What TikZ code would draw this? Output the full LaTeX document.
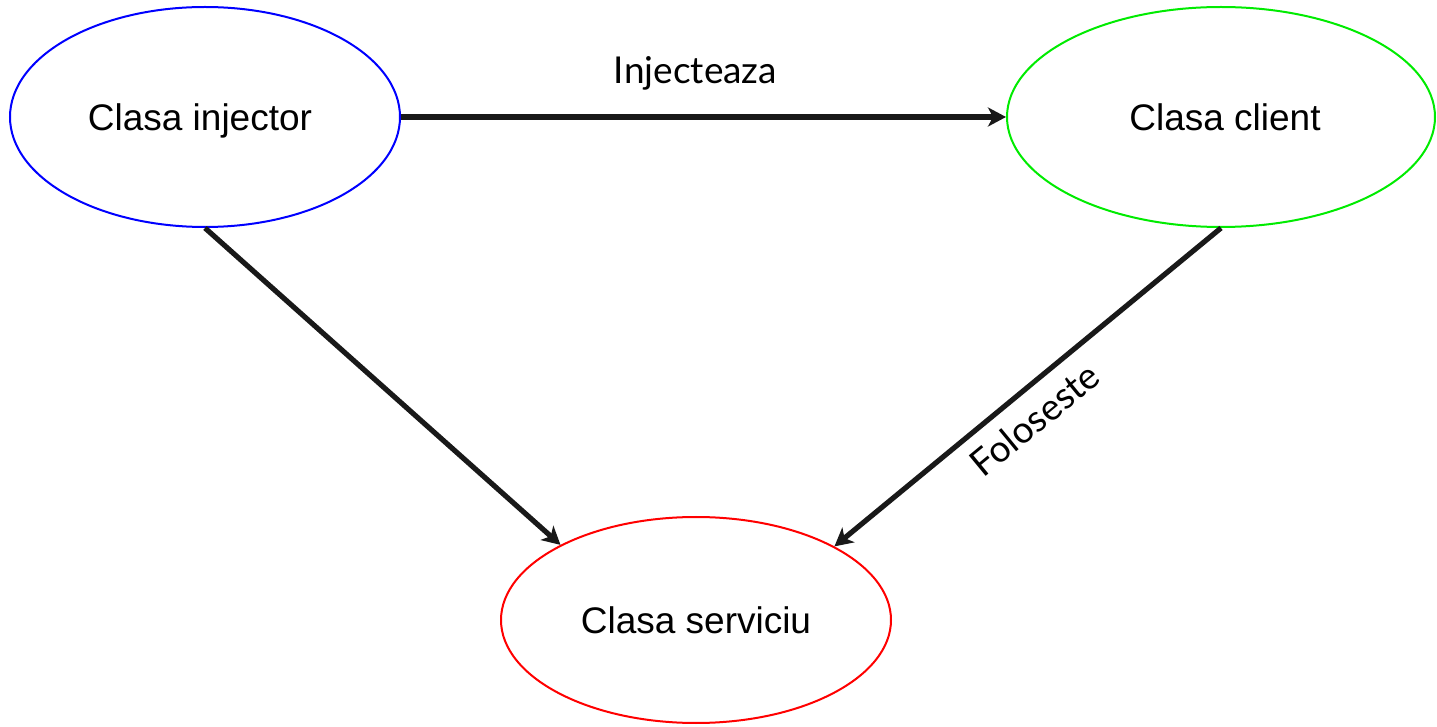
\documentclass[tikz,border=0pt]{standalone}
\usepackage{fontspec}
\setmainfont{Liberation Sans}
\newfontfamily\labelfont{Lato}
\usetikzlibrary{shapes.geometric,arrows.meta}
\tikzset{
  classnode/.style={ellipse, draw, line width=1pt, inner sep=0pt, text depth=0pt,
    font=\fontsize{18.5pt}{22pt}\selectfont},
  link/.style={line width=2.6pt, draw=black!90,
    -{Stealth[length=9pt, width=9.5pt, inset=2.5pt]}},
  edgelabel/.style={font=\labelfont\fontsize{18.5pt}{22pt}\selectfont, inner sep=0pt}
}
\begin{document}
\begin{tikzpicture}[x=0.5pt, y=-0.5pt]
  \useasboundingbox (0,0) rectangle (1437,727);
  \node[classnode, draw=blue, minimum width=195pt, minimum height=110pt]
    (inj) at (205,117) {Clasa injector\hspace*{5pt}};
  \node[classnode, draw={rgb,255:red,0;green,235;blue,0}, minimum width=214pt, minimum height=110pt]
    (cli) at (1221,117) {\hspace*{4pt}Clasa client};
  \node[classnode, draw=red, minimum width=195pt, minimum height=103pt]
    (svc) at (696,620) {Clasa serviciu};

  \draw[link] (inj.east) -- node[edgelabel, above=12pt, xshift=-4pt] {Injecteaza} (cli.west);
  \draw[link] (inj.south) -- (svc.151.6);
  \draw[link] (cli.south) -- node[edgelabel, sloped, pos=0.53, below=6.5pt] {Foloseste} (svc.28.2);
\end{tikzpicture}
\end{document}
